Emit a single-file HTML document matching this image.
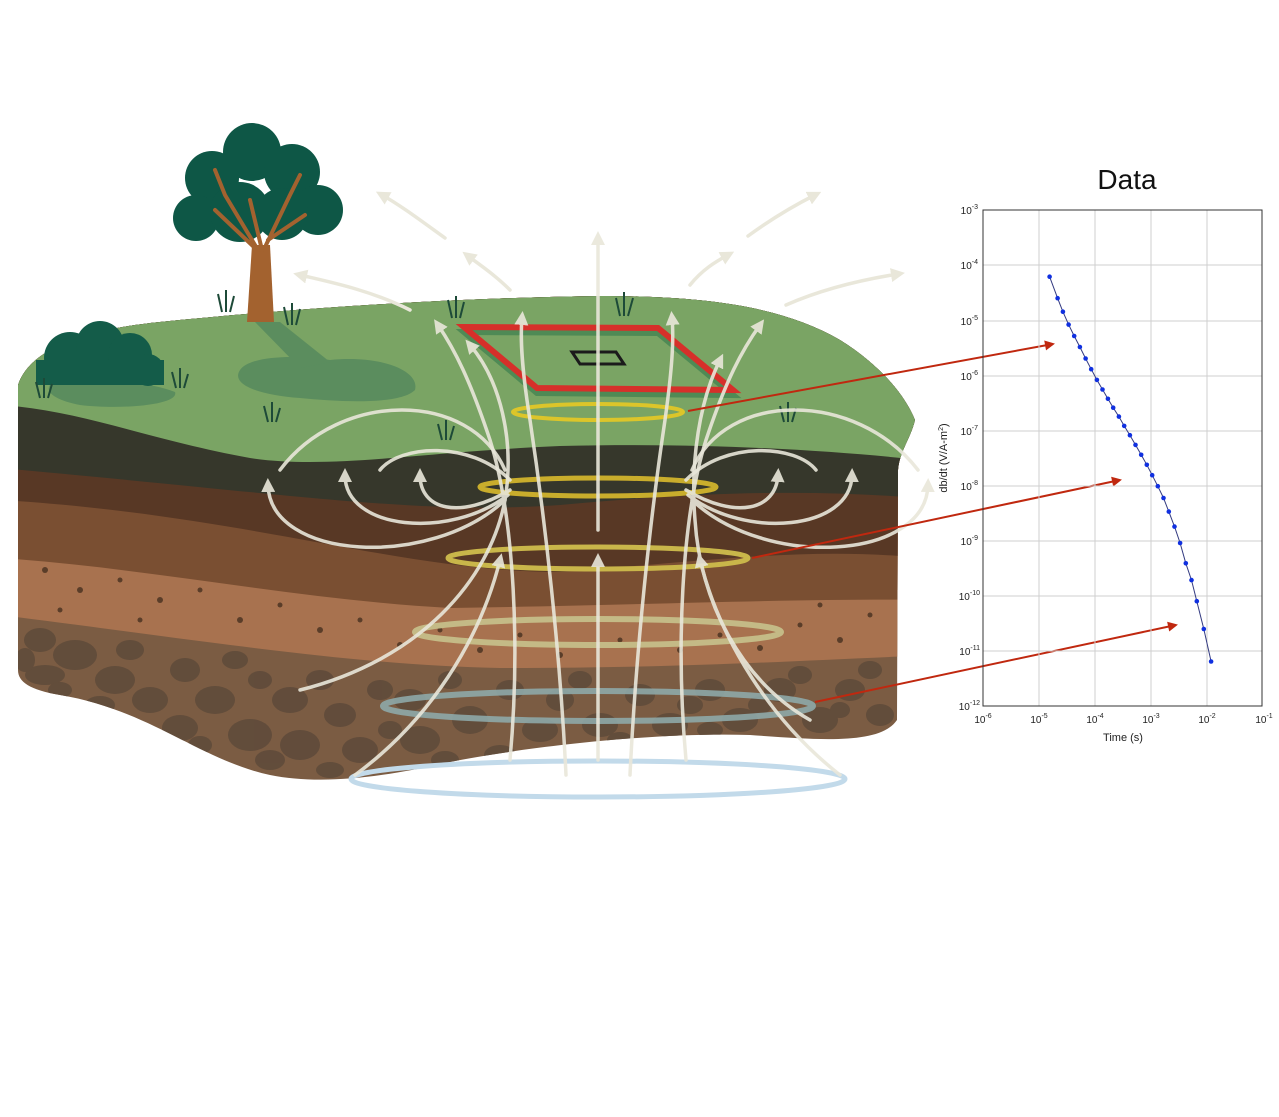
<!DOCTYPE html>
<html><head><meta charset="utf-8"><style>
html,body{margin:0;padding:0;background:#fff;}
svg{display:block;}
text{font-family:"Liberation Sans",Arial,sans-serif;}
</style></head><body>
<svg width="1279" height="1117" viewBox="0 0 1279 1117" xmlns="http://www.w3.org/2000/svg">
<defs>
<clipPath id="blk">
<path d="M18,385 C30,350 80,330 160,322 C300,308 450,298 600,296 C700,296 780,305 840,340 C880,365 905,395 915,420 C910,440 900,450 898,470 L897,720 C880,745 820,740 750,735 C650,732 520,748 450,762 C380,778 320,785 270,775 C200,760 150,710 60,695 C30,690 18,682 18,670 Z"/>
</clipPath>
<marker id="ah" viewBox="0 0 10 10" refX="5" refY="5" markerWidth="4" markerHeight="4" orient="auto"><path d="M0,0 L10,5 L0,10 Z" fill="#e9e7da"/></marker>
<marker id="rh" viewBox="0 0 10 10" refX="8" refY="5" markerWidth="6" markerHeight="5" orient="auto"><path d="M0,0 L10,5 L0,10 Z" fill="#c0280f"/></marker>
</defs>

<g clip-path="url(#blk)">
<rect x="0" y="280" width="940" height="520" fill="#7b5c43"/>
<path d="M0,280 H940 V655 C800,660 700,668 500,668 C350,665 200,640 0,615 Z" fill="#a8724f"/>
<path d="M0,280 H940 V600 C800,598 650,605 450,608 C300,600 150,568 0,558 Z" fill="#7a4f32"/>
<path d="M0,280 H940 V560 C820,545 720,560 560,572 C400,572 250,515 0,500 Z" fill="#583825"/>
<path d="M0,280 H940 V500 C820,488 700,492 560,505 C420,515 300,495 0,468 Z" fill="#36372b"/>
<path d="M0,280 H940 V462 C850,452 720,442 560,446 C420,452 330,470 250,458 C150,440 80,410 0,405 Z" fill="#7aa464"/>
<g fill="#5e4a3a" opacity="0.85">
<ellipse cx="40" cy="640" rx="16" ry="12"/><ellipse cx="75" cy="655" rx="22" ry="15"/><ellipse cx="45" cy="675" rx="20" ry="10"/>
<ellipse cx="115" cy="680" rx="20" ry="14"/><ellipse cx="150" cy="700" rx="18" ry="13"/><ellipse cx="100" cy="705" rx="15" ry="9"/>
<ellipse cx="185" cy="670" rx="15" ry="12"/><ellipse cx="215" cy="700" rx="20" ry="14"/><ellipse cx="180" cy="728" rx="18" ry="13"/>
<ellipse cx="250" cy="735" rx="22" ry="16"/><ellipse cx="290" cy="700" rx="18" ry="13"/><ellipse cx="300" cy="745" rx="20" ry="15"/>
<ellipse cx="260" cy="680" rx="12" ry="9"/><ellipse cx="340" cy="715" rx="16" ry="12"/><ellipse cx="360" cy="750" rx="18" ry="13"/>
<ellipse cx="410" cy="700" rx="16" ry="11"/><ellipse cx="420" cy="740" rx="20" ry="14"/><ellipse cx="470" cy="720" rx="18" ry="14"/>
<ellipse cx="510" cy="690" rx="14" ry="10"/><ellipse cx="540" cy="730" rx="18" ry="12"/><ellipse cx="560" cy="700" rx="14" ry="11"/>
<ellipse cx="600" cy="725" rx="18" ry="12"/><ellipse cx="640" cy="695" rx="15" ry="11"/><ellipse cx="670" cy="725" rx="18" ry="12"/>
<ellipse cx="710" cy="690" rx="15" ry="11"/><ellipse cx="740" cy="720" rx="18" ry="12"/><ellipse cx="780" cy="690" rx="16" ry="12"/>
<ellipse cx="820" cy="720" rx="18" ry="13"/><ellipse cx="850" cy="690" rx="15" ry="11"/><ellipse cx="880" cy="715" rx="14" ry="11"/>
<ellipse cx="500" cy="755" rx="16" ry="10"/><ellipse cx="450" cy="680" rx="12" ry="9"/><ellipse cx="870" cy="670" rx="12" ry="9"/>
<ellipse cx="25" cy="660" rx="10" ry="12"/><ellipse cx="130" cy="650" rx="14" ry="10"/><ellipse cx="60" cy="690" rx="12" ry="8"/>
<ellipse cx="235" cy="660" rx="13" ry="9"/><ellipse cx="320" cy="680" rx="14" ry="10"/><ellipse cx="380" cy="690" rx="13" ry="10"/>
<ellipse cx="390" cy="730" rx="12" ry="9"/><ellipse cx="270" cy="760" rx="15" ry="10"/><ellipse cx="330" cy="770" rx="14" ry="8"/>
<ellipse cx="445" cy="760" rx="14" ry="9"/><ellipse cx="580" cy="680" rx="12" ry="9"/><ellipse cx="690" cy="705" rx="13" ry="9"/>
<ellipse cx="760" cy="705" rx="12" ry="9"/><ellipse cx="800" cy="675" rx="12" ry="9"/><ellipse cx="840" cy="710" rx="10" ry="8"/>
<ellipse cx="620" cy="740" rx="13" ry="8"/><ellipse cx="710" cy="730" rx="13" ry="8"/><ellipse cx="200" cy="745" rx="12" ry="9"/>
</g>
<g fill="#5a3d29">
<circle cx="45" cy="570" r="3"/><circle cx="80" cy="590" r="3"/><circle cx="120" cy="580" r="2.5"/><circle cx="160" cy="600" r="3"/>
<circle cx="200" cy="590" r="2.5"/><circle cx="60" cy="610" r="2.5"/><circle cx="240" cy="620" r="3"/><circle cx="280" cy="605" r="2.5"/>
<circle cx="320" cy="630" r="3"/><circle cx="360" cy="620" r="2.5"/><circle cx="400" cy="645" r="3"/><circle cx="440" cy="630" r="2.5"/>
<circle cx="480" cy="650" r="3"/><circle cx="520" cy="635" r="2.5"/><circle cx="560" cy="655" r="3"/><circle cx="620" cy="640" r="2.5"/>
<circle cx="680" cy="650" r="3"/><circle cx="720" cy="635" r="2.5"/><circle cx="760" cy="648" r="3"/><circle cx="800" cy="625" r="2.5"/>
<circle cx="840" cy="640" r="3"/><circle cx="870" cy="615" r="2.5"/><circle cx="820" cy="605" r="2.5"/><circle cx="140" cy="620" r="2.5"/>
</g>
</g>

<path d="M240,370 C250,355 300,355 330,360 C380,355 420,370 415,390 C400,405 340,402 300,398 C260,395 230,385 240,370 Z" fill="#5b8d5e"/>
<path d="M255,322 L280,322 L330,362 L300,368 Z" fill="#5b8d5e"/>
<path d="M50,385 C60,375 140,378 175,392 C180,405 120,410 80,405 C55,400 45,392 50,385 Z" fill="#5b8d5e"/>

<g fill="#145c49">
<circle cx="70" cy="358" r="26"/><circle cx="100" cy="345" r="24"/><circle cx="130" cy="355" r="22"/><circle cx="148" cy="370" r="16"/>
<rect x="36" y="360" width="128" height="25"/>
</g>

<g fill="#0e5746">
<circle cx="252" cy="152" r="29"/><circle cx="212" cy="178" r="27"/><circle cx="292" cy="172" r="28"/>
<circle cx="196" cy="218" r="23"/><circle cx="318" cy="210" r="25"/><circle cx="240" cy="212" r="30"/><circle cx="282" cy="214" r="26"/>
</g>
<path d="M252,245 L270,245 L274,322 L247,322 Z" fill="#a3622f"/>
<g stroke="#a3622f" stroke-width="4" fill="none" stroke-linecap="round">
<path d="M258,250 L225,195 L215,170"/><path d="M262,250 L250,200"/><path d="M266,245 L290,195 L300,175"/><path d="M268,240 L305,215"/><path d="M255,248 L215,210"/>
</g>

<g stroke="#1d4a38" stroke-width="2" fill="none">
<path d="M222,312 l-4,-18 M226,312 l0,-22 M230,312 l4,-16"/>
<path d="M288,325 l-4,-18 M292,325 l0,-22 M296,325 l4,-16"/>
<path d="M452,318 l-4,-18 M456,318 l0,-22 M460,318 l4,-16"/>
<path d="M620,316 l-4,-18 M624,316 l0,-24 M628,316 l5,-18"/>
<path d="M176,388 l-4,-16 M180,388 l0,-20 M184,388 l4,-14"/>
<path d="M40,398 l-4,-16 M44,398 l0,-20 M48,398 l4,-14"/>
<path d="M268,422 l-4,-16 M272,422 l0,-20 M276,422 l4,-14"/>
<path d="M442,440 l-4,-16 M446,440 l0,-20 M450,440 l4,-14"/>
<path d="M784,422 l-4,-16 M788,422 l0,-20 M792,422 l4,-14"/>
</g>

<path d="M464,327 L658,328 L733,390 L537,388 Z" fill="none" stroke="#4f8a55" stroke-width="6" transform="translate(0,5)"/>
<path d="M464,327 L658,328 L733,390 L537,388 Z" fill="none" stroke="#d6302a" stroke-width="6"/>
<path d="M572,352 L616,352 L624,364 L580,364 Z" fill="none" stroke="#1b1b1b" stroke-width="3"/>

<ellipse cx="598" cy="779" rx="247" ry="18" fill="none" stroke="#c2daea" stroke-width="5"/>
<ellipse cx="598" cy="706" rx="215" ry="15" fill="none" stroke="#8ea9a8" stroke-width="6" opacity="0.9"/>
<ellipse cx="598" cy="632" rx="183" ry="13" fill="none" stroke="#c7c28c" stroke-width="6" opacity="0.9"/>
<ellipse cx="598" cy="558" rx="150" ry="11" fill="none" stroke="#c9b64a" stroke-width="5"/>
<ellipse cx="598" cy="487" rx="118" ry="9" fill="none" stroke="#c9ad2c" stroke-width="5"/>
<ellipse cx="598" cy="412" rx="85" ry="8" fill="none" stroke="#dcc52a" stroke-width="4"/>

<g stroke="#e9e7da" stroke-width="3.5" fill="none" opacity="0.9" marker-end="url(#ah)" stroke-linecap="round">
<path d="M598,530 L598,238"/>
<path d="M598,760 L598,560"/>
<path d="M566,775 C560,650 545,520 530,420 C522,370 520,340 522,318"/>
<path d="M630,775 C636,650 650,520 665,420 C672,370 674,340 672,318"/>
<path d="M510,760 C520,650 515,520 490,440 C470,380 455,350 438,325"/>
<path d="M686,760 C676,650 681,520 706,440 C726,380 742,350 760,325"/>
<path d="M300,690 C420,660 490,580 505,500 C515,440 500,380 470,345"/>
<path d="M355,775 C430,720 480,640 500,560"/>
<path d="M810,720 C740,680 700,600 695,520 C690,460 700,400 720,360"/>
<path d="M840,775 C770,720 720,640 700,560"/>
<path d="M510,490 C460,520 420,510 420,475"/>
<path d="M686,490 C736,520 776,510 778,475"/>
<path d="M508,495 C450,540 345,530 345,475"/>
<path d="M688,495 C746,540 851,530 852,475"/>
<path d="M505,500 C430,570 270,560 268,485"/>
<path d="M692,500 C766,570 926,560 928,485"/>
</g>
<g stroke="#e9e7da" stroke-width="3.5" fill="none" opacity="0.9" stroke-linecap="round">
<path d="M510,480 C470,440 400,445 380,470"/>
<path d="M686,480 C726,440 796,445 816,470"/>
<path d="M505,470 C470,390 340,390 280,470"/>
<path d="M692,470 C726,390 856,390 918,470"/>
</g>
<g stroke="#e9e7da" stroke-width="3.5" fill="none" marker-end="url(#ah)" stroke-linecap="round">
<path d="M445,238 C420,220 400,205 382,195"/>
<path d="M510,290 C495,275 480,265 468,256"/>
<path d="M410,310 C370,290 330,282 300,275"/>
<path d="M748,236 C770,220 795,205 815,195"/>
<path d="M690,285 C702,270 715,262 728,255"/>
<path d="M786,305 C820,290 860,280 898,274"/>
</g>

<g stroke="#c0280f" stroke-width="2" fill="none" marker-end="url(#rh)">
<path d="M688,411 L1053,344"/>
<path d="M752,558 L1120,480"/>
<path d="M815,702 L1176,625"/>
</g>

<text x="1127" y="189" font-size="28" text-anchor="middle" fill="#111">Data</text>
<g stroke="#cfcfcf" stroke-width="1">
<line x1="1039" y1="210" x2="1039" y2="706"/><line x1="1095" y1="210" x2="1095" y2="706"/><line x1="1151" y1="210" x2="1151" y2="706"/><line x1="1207" y1="210" x2="1207" y2="706"/>
<line x1="983" y1="265" x2="1262" y2="265"/><line x1="983" y1="321" x2="1262" y2="321"/><line x1="983" y1="376" x2="1262" y2="376"/><line x1="983" y1="431" x2="1262" y2="431"/>
<line x1="983" y1="486" x2="1262" y2="486"/><line x1="983" y1="541" x2="1262" y2="541"/><line x1="983" y1="596" x2="1262" y2="596"/><line x1="983" y1="651" x2="1262" y2="651"/>
</g>
<rect x="983" y="210" width="279" height="496" fill="none" stroke="#333" stroke-width="1"/>
<g font-size="10" fill="#222" text-anchor="end">
<text x="978" y="214">10<tspan dy="-5" font-size="7">-3</tspan></text>
<text x="978" y="269">10<tspan dy="-5" font-size="7">-4</tspan></text>
<text x="978" y="325">10<tspan dy="-5" font-size="7">-5</tspan></text>
<text x="978" y="380">10<tspan dy="-5" font-size="7">-6</tspan></text>
<text x="978" y="435">10<tspan dy="-5" font-size="7">-7</tspan></text>
<text x="978" y="490">10<tspan dy="-5" font-size="7">-8</tspan></text>
<text x="978" y="545">10<tspan dy="-5" font-size="7">-9</tspan></text>
<text x="980" y="600">10<tspan dy="-5" font-size="7">-10</tspan></text>
<text x="980" y="655">10<tspan dy="-5" font-size="7">-11</tspan></text>
<text x="980" y="710">10<tspan dy="-5" font-size="7">-12</tspan></text>
</g>
<g font-size="10" fill="#222" text-anchor="middle">
<text x="983" y="723">10<tspan dy="-5" font-size="7">-6</tspan></text>
<text x="1039" y="723">10<tspan dy="-5" font-size="7">-5</tspan></text>
<text x="1095" y="723">10<tspan dy="-5" font-size="7">-4</tspan></text>
<text x="1151" y="723">10<tspan dy="-5" font-size="7">-3</tspan></text>
<text x="1207" y="723">10<tspan dy="-5" font-size="7">-2</tspan></text>
<text x="1264" y="723">10<tspan dy="-5" font-size="7">-1</tspan></text>
<text x="1123" y="741" font-size="11">Time (s)</text>
</g>
<text transform="translate(947,458) rotate(-90)" font-size="11" fill="#222" text-anchor="middle">db/dt (V/A-m<tspan dy="-4" font-size="7">2</tspan><tspan dy="4">)</tspan></text>
<polyline fill="none" stroke="#333a80" stroke-width="1" points="1049.6,276.7 1057.6,298.2 1062.9,311.7 1068.6,324.6 1074.2,336 1079.9,347 1085.6,358.5 1091.2,369.2 1096.9,379.9 1102.5,389.5 1107.9,398.8 1113.2,407.7 1118.9,416.6 1124.2,425.9 1129.9,435.2 1135.5,444.9 1141.2,454.8 1146.8,464.8 1152.2,475.2 1157.8,486.2 1163.5,498 1168.8,511.6 1174.5,526.6 1180.1,543 1185.8,563.3 1191.5,580.1 1196.8,601.2 1203.8,629 1211.1,661.5"/>
<g fill="#1030e0">
<circle cx="1049.6" cy="276.7" r="2.3"/><circle cx="1057.6" cy="298.2" r="2.3"/><circle cx="1062.9" cy="311.7" r="2.3"/><circle cx="1068.6" cy="324.6" r="2.3"/>
<circle cx="1074.2" cy="336" r="2.3"/><circle cx="1079.9" cy="347" r="2.3"/><circle cx="1085.6" cy="358.5" r="2.3"/><circle cx="1091.2" cy="369.2" r="2.3"/>
<circle cx="1096.9" cy="379.9" r="2.3"/><circle cx="1102.5" cy="389.5" r="2.3"/><circle cx="1107.9" cy="398.8" r="2.3"/><circle cx="1113.2" cy="407.7" r="2.3"/>
<circle cx="1118.9" cy="416.6" r="2.3"/><circle cx="1124.2" cy="425.9" r="2.3"/><circle cx="1129.9" cy="435.2" r="2.3"/><circle cx="1135.5" cy="444.9" r="2.3"/>
<circle cx="1141.2" cy="454.8" r="2.3"/><circle cx="1146.8" cy="464.8" r="2.3"/><circle cx="1152.2" cy="475.2" r="2.3"/><circle cx="1157.8" cy="486.2" r="2.3"/>
<circle cx="1163.5" cy="498" r="2.3"/><circle cx="1168.8" cy="511.6" r="2.3"/><circle cx="1174.5" cy="526.6" r="2.3"/><circle cx="1180.1" cy="543" r="2.3"/>
<circle cx="1185.8" cy="563.3" r="2.3"/><circle cx="1191.5" cy="580.1" r="2.3"/><circle cx="1196.8" cy="601.2" r="2.3"/><circle cx="1203.8" cy="629" r="2.3"/>
<circle cx="1211.1" cy="661.5" r="2.3"/>
</g>
</svg>
</body></html>
